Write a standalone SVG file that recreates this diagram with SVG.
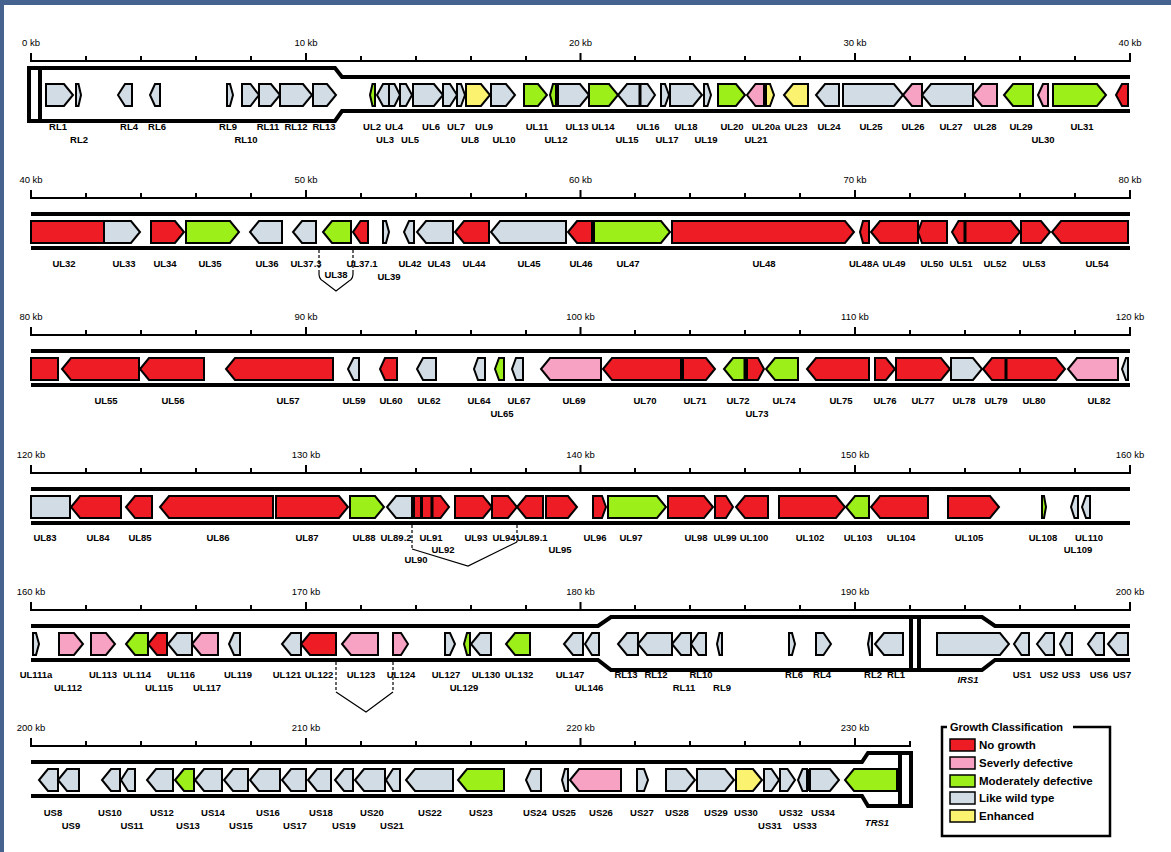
<svg xmlns="http://www.w3.org/2000/svg" xmlns:xlink="http://www.w3.org/1999/xlink" width="1171" height="852" viewBox="0 0 1171 852">
<style>
text{font-family:"Liberation Sans",Arial,sans-serif;font-size:9.5px;font-weight:700;text-anchor:middle;fill:#000}
text.k{font-weight:400}
text.it{font-style:italic}
text.lg{font-size:11.5px;text-anchor:start}
text.lt{font-size:11px;text-anchor:start}
polygon{stroke:#000;stroke-width:2;stroke-linejoin:miter}
.R{fill:#ee1c24}.P{fill:#f7a1c3}.G{fill:#9def1a}.B{fill:#d2dce5}.Y{fill:#fbf36f}
.trk{fill:none;stroke:#000;stroke-width:4}
.rul{fill:none;stroke:#000;stroke-width:2}
.bar{fill:#000}
.dash{fill:none;stroke:#000;stroke-width:1.2;stroke-dasharray:3,2}
.brk{fill:none;stroke:#000;stroke-width:1.2}
.sw{stroke:#000;stroke-width:1.5}
</style>
<defs>
<path id="ruler40" d="M31,0H1130M31,1V-8M86,1V-5M141,1V-5M196,1V-5M251,1V-5M306,1V-8M361,1V-5M416,1V-5M471,1V-5M526,1V-5M580.5,1V-8M635,1V-5M690,1V-5M745,1V-5M800,1V-5M855,1V-8M910,1V-5M965,1V-5M1020,1V-5M1075,1V-5M1130,1V-8"/>
<path id="ruler32" d="M31,0H910M31,1V-8M86,1V-5M141,1V-5M196,1V-5M251,1V-5M306,1V-8M361,1V-5M416,1V-5M471,1V-5M526,1V-5M580.5,1V-8M635,1V-5M690,1V-5M745,1V-5M800,1V-5M855,1V-8M910,1V-5"/>
</defs>
<rect x="0" y="0" width="1171" height="852" fill="#fff"/>
<rect x="0" y="0" width="1171" height="5" fill="#46638f"/>
<rect x="0" y="0" width="4" height="852" fill="#46638f"/>

<!-- ROW 1 -->
<g id="row1" transform="translate(0,61)">
<use xlink:href="#ruler40" class="rul"/>
<text class="k" x="31" y="-15">0 kb</text><text class="k" x="306" y="-15">10 kb</text><text class="k" x="580.5" y="-15">20 kb</text><text class="k" x="855" y="-15">30 kb</text><text class="k" x="1130" y="-15">40 kb</text>
<path class="trk" d="M1130,16H342L335,7H29V60H335L342,50H1130M40,7V60"/>
<g id="r1-RL1"><polygon class="B" points="46,23 64,23 73,34 64,45 46,45"/><text x="58" y="69">RL1</text></g>
<g id="r1-RL2"><polygon class="B" points="76,23 78.5,23 81,34 78.5,45 76,45"/><text x="79" y="82">RL2</text></g>
<g id="r1-RL4"><polygon class="B" points="132,23 125,23 118,34 125,45 132,45"/><text x="129" y="69">RL4</text></g>
<g id="r1-RL6"><polygon class="B" points="160,23 155,23 150,34 155,45 160,45"/><text x="157" y="69">RL6</text></g>
<g id="r1-RL9"><polygon class="B" points="227,23 230,23 233,34 230,45 227,45"/><text x="228" y="69">RL9</text></g>
<g id="r1-RL10"><polygon class="B" points="242,23 250.5,23 259,34 250.5,45 242,45"/><text x="246" y="82">RL10</text></g>
<g id="r1-RL11"><polygon class="B" points="259,23 271,23 280,34 271,45 259,45"/><text x="268" y="69">RL11</text></g>
<g id="r1-RL12"><polygon class="B" points="280,23 303,23 312,34 303,45 280,45"/><text x="296" y="69">RL12</text></g>
<g id="r1-RL13"><polygon class="B" points="313,23 327,23 336,34 327,45 313,45"/><text x="324" y="69">RL13</text></g>
<g id="UL2"><polygon class="G" points="375,23 372.5,23 370,34 372.5,45 375,45"/><text x="372" y="69">UL2</text></g>
<g id="UL3"><polygon class="B" points="389,23 383,23 377,34 383,45 389,45"/><text x="385" y="82">UL3</text></g>
<g id="UL4"><polygon class="B" points="389,23 394.5,23 400,34 394.5,45 389,45"/><text x="394" y="69">UL4</text></g>
<g id="UL5"><polygon class="B" points="400,23 406,23 412,34 406,45 400,45"/><text x="410" y="82">UL5</text></g>
<g id="UL6"><polygon class="B" points="413,23 434,23 443,34 434,45 413,45"/><text x="431" y="69">UL6</text></g>
<g id="UL7"><polygon class="B" points="443,23 450,23 457,34 450,45 443,45"/><text x="456" y="69">UL7</text></g>
<g id="UL8"><polygon class="B" points="457,23 461,23 465,34 461,45 457,45"/><text x="470" y="82">UL8</text></g>
<g id="UL9"><polygon class="Y" points="466,23 481,23 490,34 481,45 466,45"/><text x="484" y="69">UL9</text></g>
<g id="UL10"><polygon class="B" points="491,23 506,23 515,34 506,45 491,45"/><text x="504" y="82">UL10</text></g>
<g id="UL11"><polygon class="G" points="524,23 538,23 547,34 538,45 524,45"/><text x="537" y="69">UL11</text></g>
<g id="UL12"><polygon class="G" points="556,23 553,23 550,34 553,45 556,45"/><text x="556" y="82">UL12</text></g>
<g id="UL13"><polygon class="B" points="558,23 580,23 589,34 580,45 558,45"/><text x="577" y="69">UL13</text></g>
<g id="UL14"><polygon class="G" points="589,23 609,23 618,34 609,45 589,45"/><text x="603" y="69">UL14</text></g>
<g id="UL15"><polygon class="B" points="640,23 627,23 618,34 627,45 640,45"/><text x="627" y="82">UL15</text></g>
<g id="UL16"><polygon class="B" points="640,23 647.5,23 655,34 647.5,45 640,45"/><text x="648" y="69">UL16</text></g>
<g id="UL17"><polygon class="B" points="661,23 665,23 669,34 665,45 661,45"/><text x="667" y="82">UL17</text></g>
<g id="UL18"><polygon class="B" points="670,23 693,23 702,34 693,45 670,45"/><text x="686" y="69">UL18</text></g>
<g id="UL19"><polygon class="B" points="704,23 707.5,23 711,34 707.5,45 704,45"/><text x="706" y="82">UL19</text></g>
<g id="UL20"><polygon class="G" points="718,23 736,23 745,34 736,45 718,45"/><text x="732" y="69">UL20</text></g>
<g id="UL21"><polygon class="P" points="764,23 755.5,23 747,34 755.5,45 764,45"/><text x="756" y="82">UL21</text></g>
<g id="UL20a"><polygon class="Y" points="766,23 770,23 774,34 770,45 766,45"/><text x="766" y="69">UL20a</text></g>
<g id="UL23"><polygon class="Y" points="808,23 793,23 784,34 793,45 808,45"/><text x="796" y="69">UL23</text></g>
<g id="UL24"><polygon class="B" points="839,23 825,23 816,34 825,45 839,45"/><text x="829" y="69">UL24</text></g>
<g id="UL25"><polygon class="B" points="843,23 894,23 903,34 894,45 843,45"/><text x="871" y="69">UL25</text></g>
<g id="UL26"><polygon class="P" points="922,23 912,23 903,34 912,45 922,45"/><text x="913" y="69">UL26</text></g>
<g id="UL27"><polygon class="B" points="973,23 931,23 922,34 931,45 973,45"/><text x="951" y="69">UL27</text></g>
<g id="UL28"><polygon class="P" points="997,23 982,23 973,34 982,45 997,45"/><text x="985" y="69">UL28</text></g>
<g id="UL29"><polygon class="G" points="1033,23 1013,23 1004,34 1013,45 1033,45"/><text x="1021" y="69">UL29</text></g>
<g id="UL30"><polygon class="P" points="1048,23 1043,23 1038,34 1043,45 1048,45"/><text x="1043" y="82">UL30</text></g>
<g id="UL31"><polygon class="G" points="1053,23 1097,23 1106,34 1097,45 1053,45"/><text x="1082" y="69">UL31</text></g>
<g id="UL32-tip"><polygon class="R" points="1128,23 1122,23 1116,34 1122,45 1128,45"/></g>
<rect class="bar" x="638.5" y="23" width="3" height="22"/><rect class="bar" x="763.5" y="23" width="3" height="22"/>
</g>

<!-- ROW 2 -->
<g id="row2" transform="translate(0,198)">
<use xlink:href="#ruler40" class="rul"/>
<text class="k" x="31" y="-15">40 kb</text><text class="k" x="306" y="-15">50 kb</text><text class="k" x="580.5" y="-15">60 kb</text><text class="k" x="855" y="-15">70 kb</text><text class="k" x="1130" y="-15">80 kb</text>
<path class="trk" d="M31,16H1130M31,50H1130"/>
<g id="UL32"><polygon class="R" points="31,23 104,23 104,45 31,45"/><text x="64" y="69">UL32</text></g>
<g id="UL33"><polygon class="B" points="104,23 131,23 140,34 131,45 104,45"/><text x="124" y="69">UL33</text></g>
<g id="UL34"><polygon class="R" points="151,23 175,23 184,34 175,45 151,45"/><text x="165" y="69">UL34</text></g>
<g id="UL35"><polygon class="G" points="186,23 230,23 239,34 230,45 186,45"/><text x="210" y="69">UL35</text></g>
<g id="UL36"><polygon class="B" points="282,23 259,23 250,34 259,45 282,45"/><text x="267" y="69">UL36</text></g>
<g id="UL37.3"><polygon class="B" points="316,23 302,23 293,34 302,45 316,45"/><text x="306" y="69">UL37.3</text></g>
<g id="UL38"><polygon class="G" points="351,23 332,23 323,34 332,45 351,45"/><text x="336" y="80">UL38</text></g>
<g id="UL37.1"><polygon class="R" points="368,23 360.5,23 353,34 360.5,45 368,45"/><text x="362" y="69">UL37.1</text></g>
<g id="UL39"><polygon class="B" points="383,23 386,23 389,34 386,45 383,45"/><text x="389" y="82">UL39</text></g>
<g id="UL42"><polygon class="B" points="414,23 409,23 404,34 409,45 414,45"/><text x="410" y="69">UL42</text></g>
<g id="UL43"><polygon class="B" points="453,23 426,23 417,34 426,45 453,45"/><text x="439" y="69">UL43</text></g>
<g id="UL44"><polygon class="R" points="489,23 464,23 455,34 464,45 489,45"/><text x="474" y="69">UL44</text></g>
<g id="UL45"><polygon class="B" points="566,23 500,23 491,34 500,45 566,45"/><text x="529" y="69">UL45</text></g>
<g id="UL46"><polygon class="R" points="592,23 577,23 568,34 577,45 592,45"/><text x="581" y="69">UL46</text></g>
<g id="UL47"><polygon class="G" points="594,23 661,23 670,34 661,45 594,45"/><text x="628" y="69">UL47</text></g>
<g id="UL48"><polygon class="R" points="672,23 845,23 854,34 845,45 672,45"/><text x="764" y="69">UL48</text></g>
<g id="UL48A"><polygon class="R" points="869,23 863,23 860,34 863,45 869,45"/><text x="864" y="69">UL48A</text></g>
<g id="UL49"><polygon class="R" points="918,23 880,23 871,34 880,45 918,45"/><text x="894" y="69">UL49</text></g>
<g id="UL50"><polygon class="R" points="947,23 922,23 918,34 922,45 947,45"/><text x="932" y="69">UL50</text></g>
<g id="UL51"><polygon class="R" points="965,23 958.5,23 952,34 958.5,45 965,45"/><text x="961" y="69">UL51</text></g>
<g id="UL52"><polygon class="R" points="965,23 1011,23 1020,34 1011,45 965,45"/><text x="995" y="69">UL52</text></g>
<g id="UL53"><polygon class="R" points="1021,23 1041,23 1050,34 1041,45 1021,45"/><text x="1034" y="69">UL53</text></g>
<g id="UL54"><polygon class="R" points="1128,23 1061,23 1052,34 1061,45 1128,45"/><text x="1097" y="69">UL54</text></g>
<rect class="bar" x="591" y="23" width="3" height="22"/><rect class="bar" x="963.5" y="23" width="3" height="22"/>
</g>

<!-- ROW 3 -->
<g id="row3" transform="translate(0,335)">
<use xlink:href="#ruler40" class="rul"/>
<text class="k" x="31" y="-15">80 kb</text><text class="k" x="306" y="-15">90 kb</text><text class="k" x="580.5" y="-15">100 kb</text><text class="k" x="855" y="-15">110 kb</text><text class="k" x="1130" y="-15">120 kb</text>
<path class="trk" d="M31,16H1130M31,50H1130"/>
<g id="UL54-cont"><polygon class="R" points="31,23 58,23 58,45 31,45"/></g>
<g id="UL55"><polygon class="R" points="139,23 71,23 62,34 71,45 139,45"/><text x="106" y="69">UL55</text></g>
<g id="UL56"><polygon class="R" points="204,23 149,23 140,34 149,45 204,45"/><text x="173" y="69">UL56</text></g>
<g id="UL57"><polygon class="R" points="333,23 235,23 226,34 235,45 333,45"/><text x="288" y="69">UL57</text></g>
<g id="UL59"><polygon class="B" points="359,23 353.5,23 348,34 353.5,45 359,45"/><text x="354" y="69">UL59</text></g>
<g id="UL60"><polygon class="R" points="397,23 385,23 380,34 385,45 397,45"/><text x="391" y="69">UL60</text></g>
<g id="UL62"><polygon class="B" points="436,23 423,23 417,34 423,45 436,45"/><text x="429" y="69">UL62</text></g>
<g id="UL64"><polygon class="B" points="485,23 478,23 474,34 478,45 485,45"/><text x="479" y="69">UL64</text></g>
<g id="UL65"><polygon class="G" points="504,23 499,23 495,34 499,45 504,45"/><text x="502" y="82">UL65</text></g>
<g id="UL67"><polygon class="B" points="523,23 516,23 512,34 516,45 523,45"/><text x="519" y="69">UL67</text></g>
<g id="UL69"><polygon class="P" points="601,23 550,23 541,34 550,45 601,45"/><text x="574" y="69">UL69</text></g>
<g id="UL70"><polygon class="R" points="681,23 612,23 603,34 612,45 681,45"/><text x="645" y="69">UL70</text></g>
<g id="UL71"><polygon class="R" points="683,23 706,23 715,34 706,45 683,45"/><text x="695" y="69">UL71</text></g>
<g id="UL72"><polygon class="G" points="745,23 733,23 724,34 733,45 745,45"/><text x="738" y="69">UL72</text></g>
<g id="UL73"><polygon class="R" points="747,23 758,23 764,34 758,45 747,45"/><text x="757" y="82">UL73</text></g>
<g id="UL74"><polygon class="G" points="798,23 775,23 766,34 775,45 798,45"/><text x="784" y="69">UL74</text></g>
<g id="UL75"><polygon class="R" points="869,23 816,23 807,34 816,45 869,45"/><text x="841" y="69">UL75</text></g>
<g id="UL76"><polygon class="R" points="875,23 886,23 895,34 886,45 875,45"/><text x="885" y="69">UL76</text></g>
<g id="UL77"><polygon class="R" points="896,23 941,23 950,34 941,45 896,45"/><text x="923" y="69">UL77</text></g>
<g id="UL78"><polygon class="B" points="951,23 973,23 982,34 973,45 951,45"/><text x="964" y="69">UL78</text></g>
<g id="UL79"><polygon class="R" points="1006,23 992,23 983,34 992,45 1006,45"/><text x="996" y="69">UL79</text></g>
<g id="UL80"><polygon class="R" points="1006,23 1056,23 1065,34 1056,45 1006,45"/><text x="1034" y="69">UL80</text></g>
<g id="UL82"><polygon class="P" points="1118,23 1077,23 1068,34 1077,45 1118,45"/><text x="1099" y="69">UL82</text></g>
<g id="UL83-tip"><polygon class="B" points="1128,23 1126,23 1122,34 1126,45 1128,45"/></g>
<rect class="bar" x="743.5" y="23" width="3" height="22"/><rect class="bar" x="1004.5" y="23" width="3" height="22"/>
</g>

<!-- ROW 4 -->
<g id="row4" transform="translate(0,473)">
<use xlink:href="#ruler40" class="rul"/>
<text class="k" x="31" y="-15">120 kb</text><text class="k" x="306" y="-15">130 kb</text><text class="k" x="580.5" y="-15">140 kb</text><text class="k" x="855" y="-15">150 kb</text><text class="k" x="1130" y="-15">160 kb</text>
<path class="trk" d="M31,16H1130M31,50H1130"/>
<g id="UL83"><polygon class="B" points="31,23 70,23 70,45 31,45"/><text x="45" y="68">UL83</text></g>
<g id="UL84"><polygon class="R" points="121,23 80,23 71,34 80,45 121,45"/><text x="98" y="68">UL84</text></g>
<g id="UL85"><polygon class="R" points="152,23 135,23 126,34 135,45 152,45"/><text x="140" y="68">UL85</text></g>
<g id="UL86"><polygon class="R" points="273,23 169,23 160,34 169,45 273,45"/><text x="218" y="68">UL86</text></g>
<g id="UL87"><polygon class="R" points="276,23 339,23 348,34 339,45 276,45"/><text x="307" y="68">UL87</text></g>
<g id="UL88"><polygon class="G" points="350,23 375,23 384,34 375,45 350,45"/><text x="364" y="68">UL88</text></g>
<g id="UL89.2"><polygon class="B" points="412,23 396,23 387,34 396,45 412,45"/><text x="396" y="68">UL89.2</text></g>
<g id="UL90"><polygon class="R" points="414,23 421,23 421,45 414,45"/><text x="416" y="90">UL90</text></g>
<g id="UL91"><polygon class="R" points="422,23 432,23 432,45 422,45"/><text x="431" y="68">UL91</text></g>
<g id="UL92"><polygon class="R" points="432,23 440.5,23 449,34 440.5,45 432,45"/><text x="443" y="80">UL92</text></g>
<g id="UL93"><polygon class="R" points="455,23 483,23 492,34 483,45 455,45"/><text x="476" y="68">UL93</text></g>
<g id="UL94"><polygon class="R" points="492,23 508,23 517,34 508,45 492,45"/><text x="504" y="68">UL94</text></g>
<g id="UL89.1"><polygon class="R" points="543,23 526,23 517,34 526,45 543,45"/><text x="532" y="68">UL89.1</text></g>
<g id="UL95"><polygon class="R" points="546,23 568,23 577,34 568,45 546,45"/><text x="560" y="80">UL95</text></g>
<g id="UL96"><polygon class="R" points="593,23 602,23 606,34 602,45 593,45"/><text x="595" y="68">UL96</text></g>
<g id="UL97"><polygon class="G" points="608,23 657,23 666,34 657,45 608,45"/><text x="631" y="68">UL97</text></g>
<g id="UL98"><polygon class="R" points="668,23 704,23 713,34 704,45 668,45"/><text x="696" y="68">UL98</text></g>
<g id="UL99"><polygon class="R" points="715,23 726,23 733,34 726,45 715,45"/><text x="725" y="68">UL99</text></g>
<g id="UL100"><polygon class="R" points="768,23 745,23 736,34 745,45 768,45"/><text x="754" y="68">UL100</text></g>
<g id="UL102"><polygon class="R" points="779,23 836,23 845,34 836,45 779,45"/><text x="810" y="68">UL102</text></g>
<g id="UL103"><polygon class="G" points="869,23 855,23 846,34 855,45 869,45"/><text x="858" y="68">UL103</text></g>
<g id="UL104"><polygon class="R" points="928,23 880,23 871,34 880,45 928,45"/><text x="901" y="68">UL104</text></g>
<g id="UL105"><polygon class="R" points="948,23 990,23 999,34 990,45 948,45"/><text x="969" y="68">UL105</text></g>
<g id="UL108"><polygon class="G" points="1042,23 1044,23 1046,34 1044,45 1042,45"/><text x="1043" y="68">UL108</text></g>
<g id="UL109"><polygon class="B" points="1078,23 1074.5,23 1071,34 1074.5,45 1078,45"/><text x="1078" y="80">UL109</text></g>
<g id="UL110"><polygon class="B" points="1090,23 1086,23 1082,34 1086,45 1090,45"/><text x="1089" y="68">UL110</text></g>
<rect class="bar" x="420" y="23" width="3" height="22"/><rect class="bar" x="430.5" y="23" width="3" height="22"/>
</g>

<!-- ROW 5 -->
<g id="row5" transform="translate(0,610)">
<use xlink:href="#ruler40" class="rul"/>
<text class="k" x="31" y="-15">160 kb</text><text class="k" x="306" y="-15">170 kb</text><text class="k" x="580.5" y="-15">180 kb</text><text class="k" x="855" y="-15">190 kb</text><text class="k" x="1130" y="-15">200 kb</text>
<path class="trk" d="M31,16H598L611,7H982L995,16H1130M31,50H598L611,60H982L995,50H1130M911,7V60M919,7V60"/>
<g id="UL111a"><polygon class="B" points="33,23 36,23 39,34 36,45 33,45"/><text x="36" y="68">UL111a</text></g>
<g id="UL112"><polygon class="P" points="59,23 74,23 83,34 74,45 59,45"/><text x="68" y="81">UL112</text></g>
<g id="UL113"><polygon class="P" points="91,23 106,23 115,34 106,45 91,45"/><text x="103" y="68">UL113</text></g>
<g id="UL114"><polygon class="G" points="148,23 135,23 126,34 135,45 148,45"/><text x="137" y="68">UL114</text></g>
<g id="UL115"><polygon class="R" points="167,23 157,23 148,34 157,45 167,45"/><text x="159" y="81">UL115</text></g>
<g id="UL116"><polygon class="B" points="192,23 177,23 168,34 177,45 192,45"/><text x="181" y="68">UL116</text></g>
<g id="UL117"><polygon class="P" points="218,23 201,23 192,34 201,45 218,45"/><text x="207" y="81">UL117</text></g>
<g id="UL119"><polygon class="B" points="240,23 234,23 229,34 234,45 240,45"/><text x="238" y="68">UL119</text></g>
<g id="UL121"><polygon class="B" points="301,23 291,23 282,34 291,45 301,45"/><text x="287" y="68">UL121</text></g>
<g id="UL122"><polygon class="R" points="336,23 310,23 301,34 310,45 336,45"/><text x="319" y="68">UL122</text></g>
<g id="UL123"><polygon class="P" points="378,23 351,23 342,34 351,45 378,45"/><text x="361" y="68">UL123</text></g>
<g id="UL124"><polygon class="P" points="393,23 401,23 408,34 401,45 393,45"/><text x="401" y="68">UL124</text></g>
<g id="UL127"><polygon class="B" points="445,23 450,23 455,34 450,45 445,45"/><text x="446" y="68">UL127</text></g>
<g id="UL129"><polygon class="G" points="470,23 467,23 464,34 467,45 470,45"/><text x="464" y="81">UL129</text></g>
<g id="UL130"><polygon class="B" points="491,23 480,23 471,34 480,45 491,45"/><text x="486" y="68">UL130</text></g>
<g id="UL132"><polygon class="G" points="530,23 515,23 506,34 515,45 530,45"/><text x="519" y="68">UL132</text></g>
<g id="UL147"><polygon class="B" points="583,23 573,23 564,34 573,45 583,45"/><text x="570" y="68">UL147</text></g>
<g id="UL146"><polygon class="B" points="599,23 592,23 585,34 592,45 599,45"/><text x="589" y="81">UL146</text></g>
<g id="r5-RL13"><polygon class="B" points="638,23 627,23 618,34 627,45 638,45"/><text x="626" y="68">RL13</text></g>
<g id="r5-RL12"><polygon class="B" points="672,23 647,23 638,34 647,45 672,45"/><text x="656" y="68">RL12</text></g>
<g id="r5-RL11"><polygon class="B" points="691,23 681,23 672,34 681,45 691,45"/><text x="684" y="81">RL11</text></g>
<g id="r5-RL10"><polygon class="B" points="706,23 698.5,23 691,34 698.5,45 706,45"/><text x="701" y="68">RL10</text></g>
<g id="r5-RL9"><polygon class="B" points="722,23 719.5,23 717,34 719.5,45 722,45"/><text x="722" y="81">RL9</text></g>
<g id="r5-RL6"><polygon class="B" points="789,23 792,23 795,34 792,45 789,45"/><text x="794" y="68">RL6</text></g>
<g id="r5-RL4"><polygon class="B" points="816,23 823.5,23 831,34 823.5,45 816,45"/><text x="822" y="68">RL4</text></g>
<g id="r5-RL2"><polygon class="B" points="872,23 870,23 868,34 870,45 872,45"/><text x="873" y="68">RL2</text></g>
<g id="r5-RL1"><polygon class="B" points="903,23 884,23 875,34 884,45 903,45"/><text x="896" y="68">RL1</text></g>
<g id="IRS1"><polygon class="B" points="937,23 1000,23 1009,34 1000,45 937,45"/><text class="it" x="968" y="73">IRS1</text></g>
<g id="US1"><polygon class="B" points="1029,23 1021.5,23 1014,34 1021.5,45 1029,45"/><text x="1022" y="68">US1</text></g>
<g id="US2"><polygon class="B" points="1054,23 1045.5,23 1037,34 1045.5,45 1054,45"/><text x="1049" y="68">US2</text></g>
<g id="US3"><polygon class="B" points="1072,23 1066,23 1060,34 1066,45 1072,45"/><text x="1071" y="68">US3</text></g>
<g id="US6"><polygon class="B" points="1104,23 1096,23 1088,34 1096,45 1104,45"/><text x="1099" y="68">US6</text></g>
<g id="US7"><polygon class="B" points="1128,23 1117,23 1108,34 1117,45 1128,45"/><text x="1122" y="68">US7</text></g>
</g>

<!-- ROW 6 -->
<g id="row6" transform="translate(0,746)">
<use xlink:href="#ruler32" class="rul"/>
<text class="k" x="31" y="-15">200 kb</text><text class="k" x="306" y="-15">210 kb</text><text class="k" x="580.5" y="-15">220 kb</text><text class="k" x="855" y="-15">230 kb</text>
<path class="trk" d="M31,16H862L868,7H911V60H868L862,50H31M900,7V60"/>
<g id="US8"><polygon class="B" points="58,23 48,23 39,34 48,45 58,45"/><text x="53" y="70">US8</text></g>
<g id="US9"><polygon class="B" points="79,23 67,23 58,34 67,45 79,45"/><text x="71" y="83">US9</text></g>
<g id="US10"><polygon class="B" points="120,23 111,23 102,34 111,45 120,45"/><text x="110" y="70">US10</text></g>
<g id="US11"><polygon class="B" points="135,23 128,23 121,34 128,45 135,45"/><text x="132" y="83">US11</text></g>
<g id="US12"><polygon class="B" points="173,23 156,23 147,34 156,45 173,45"/><text x="162" y="70">US12</text></g>
<g id="US13"><polygon class="G" points="194,23 184,23 175,34 184,45 194,45"/><text x="188" y="83">US13</text></g>
<g id="US14"><polygon class="B" points="222,23 204,23 195,34 204,45 222,45"/><text x="213" y="70">US14</text></g>
<g id="US15"><polygon class="B" points="248,23 233,23 224,34 233,45 248,45"/><text x="241" y="83">US15</text></g>
<g id="US16"><polygon class="B" points="280,23 259,23 250,34 259,45 280,45"/><text x="268" y="70">US16</text></g>
<g id="US17"><polygon class="B" points="306,23 291,23 282,34 291,45 306,45"/><text x="295" y="83">US17</text></g>
<g id="US18"><polygon class="B" points="331,23 317,23 308,34 317,45 331,45"/><text x="321" y="70">US18</text></g>
<g id="US19"><polygon class="B" points="353,23 344,23 335,34 344,45 353,45"/><text x="344" y="83">US19</text></g>
<g id="US20"><polygon class="B" points="385,23 364,23 355,34 364,45 385,45"/><text x="372" y="70">US20</text></g>
<g id="US21"><polygon class="B" points="400,23 393,23 386,34 393,45 400,45"/><text x="392" y="83">US21</text></g>
<g id="US22"><polygon class="B" points="453,23 415,23 406,34 415,45 453,45"/><text x="430" y="70">US22</text></g>
<g id="US23"><polygon class="G" points="504,23 467,23 458,34 467,45 504,45"/><text x="481" y="70">US23</text></g>
<g id="US24"><polygon class="B" points="541,23 531,23 526,34 531,45 541,45"/><text x="535" y="70">US24</text></g>
<g id="US25"><polygon class="B" points="568,23 565,23 562,34 565,45 568,45"/><text x="564" y="70">US25</text></g>
<g id="US26"><polygon class="P" points="621,23 579,23 570,34 579,45 621,45"/><text x="601" y="70">US26</text></g>
<g id="US27"><polygon class="B" points="637,23 644,23 648,34 644,45 637,45"/><text x="642" y="70">US27</text></g>
<g id="US28"><polygon class="B" points="666,23 686,23 695,34 686,45 666,45"/><text x="677" y="70">US28</text></g>
<g id="US29"><polygon class="B" points="697,23 725,23 734,34 725,45 697,45"/><text x="716" y="70">US29</text></g>
<g id="US30"><polygon class="Y" points="736,23 753,23 762,34 753,45 736,45"/><text x="746" y="70">US30</text></g>
<g id="US31"><polygon class="B" points="764,23 771.5,23 779,34 771.5,45 764,45"/><text x="770" y="83">US31</text></g>
<g id="US32"><polygon class="B" points="780,23 787.5,23 795,34 787.5,45 780,45"/><text x="791" y="70">US32</text></g>
<g id="US33"><polygon class="B" points="807,23 802.5,23 798,34 802.5,45 807,45"/><text x="805" y="83">US33</text></g>
<g id="US34"><polygon class="B" points="810,23 830,23 839,34 830,45 810,45"/><text x="823" y="70">US34</text></g>
<g id="TRS1"><polygon class="G" points="897,23 854,23 845,34 854,45 897,45"/><text class="it" x="877" y="80">TRS1</text></g>
<rect class="bar" x="806" y="23" width="4" height="22"/>
</g>

<!-- CONNECTORS (splice brackets) -->
<g id="connectors">
<path class="dash" d="M319,250V272M353,250V272"/>
<path class="brk" d="M319,272Q318.5,279 323,281L336,291L349,281Q353.5,279 353,272"/>
<path class="dash" d="M412,525V549M517,525V542"/>
<path class="brk" d="M412,549L468,566L517,542"/>
<path class="dash" d="M336,662V692M393,662V692"/>
<path class="brk" d="M336,692L366,712L393,692"/>
</g>

<!-- LEGEND -->
<g id="legend">
<rect x="942" y="727" width="168" height="109" fill="#fff" stroke="#000" stroke-width="2.5"/>
<rect x="947" y="719" width="126" height="14" fill="#fff"/>
<text class="lt" x="950" y="731">Growth Classification</text>
<rect class="sw R" x="950" y="739" width="25" height="12"/><text class="lg" x="979" y="749">No growth</text>
<rect class="sw P" x="950" y="757" width="25" height="12"/><text class="lg" x="979" y="767">Severly defective</text>
<rect class="sw G" x="950" y="775" width="25" height="12"/><text class="lg" x="979" y="785">Moderately defective</text>
<rect class="sw B" x="950" y="792" width="25" height="12"/><text class="lg" x="979" y="802">Like wild type</text>
<rect class="sw Y" x="950" y="810" width="25" height="12"/><text class="lg" x="979" y="820">Enhanced</text>
</g>
</svg>
